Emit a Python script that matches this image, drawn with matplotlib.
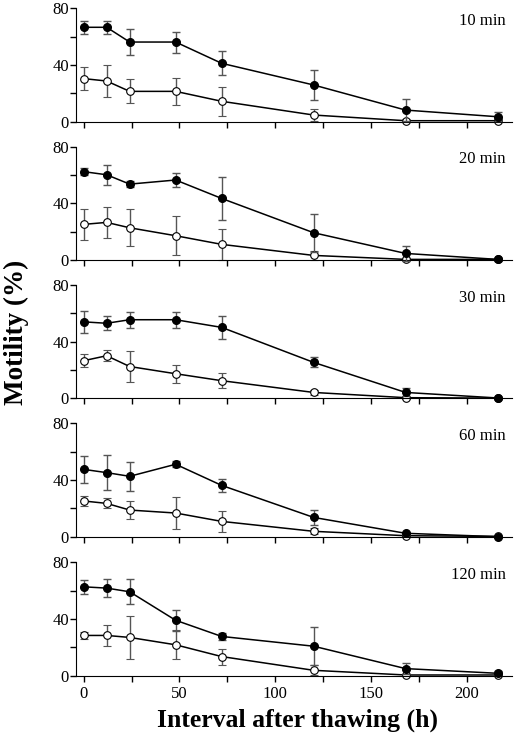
import matplotlib.pyplot as plt
import numpy as np

plt.rcParams['font.family'] = ['Liberation Serif', 'DejaVu Serif']

hours = [0, 12, 24, 48, 72, 120, 168, 216]
panels = ["10 min", "20 min", "30 min", "60 min", "120 min"]

# filled circles
filled = [
    [66.6, 66.6, 56.2, 56.2, 41.2, 25.9, 8.2, 3.5],
    [62.4, 60.2, 53.6, 56.5, 43.5, 19.3, 4.7, 0.5],
    [54.0, 53.0, 55.5, 55.5, 50.1, 25.4, 4.2, 0.3],
    [47.5, 45.2, 42.6, 51.1, 36.2, 13.6, 2.4, 0.0],
    [62.7, 61.8, 59.2, 39.1, 27.7, 20.8, 5.0, 1.7],
]
filled_err = [
    [4.7, 4.7, 9.4, 7.4, 8.6, 10.6, 7.8, 3.0],
    [2.4, 7.2, 2.1, 4.7, 15.0, 13.5, 5.0, 1.0],
    [8.0, 5.0, 5.6, 5.6, 8.2, 3.5, 2.8, 0.5],
    [9.5, 12.5, 10.4, 2.1, 4.7, 5.0, 1.0, 0.3],
    [4.9, 6.3, 8.9, 7.3, 2.5, 13.5, 3.8, 1.5],
]
# open circles
hollow = [
    [30.4, 28.7, 21.4, 21.4, 14.4, 4.7, 0.7, 0.7],
    [25.2, 26.6, 22.8, 17.2, 11.1, 3.3, 0.5, 0.5],
    [26.6, 30.1, 22.5, 17.4, 12.5, 4.2, 0.5, 0.2],
    [25.2, 23.5, 18.8, 16.7, 10.8, 3.8, 0.7, 0.2],
    [28.4, 28.4, 27.0, 21.8, 13.5, 3.8, 0.5, 0.5],
]
hollow_err = [
    [8.0, 11.0, 8.4, 9.4, 10.2, 4.0, 1.0, 1.0],
    [10.8, 11.2, 13.0, 13.6, 11.0, 3.0, 1.0, 1.0],
    [4.7, 4.0, 10.6, 6.5, 5.5, 1.5, 1.0, 0.5],
    [3.8, 3.6, 6.4, 11.0, 7.3, 2.0, 0.5, 0.3],
    [2.4, 7.6, 15.4, 10.3, 5.6, 3.5, 1.0, 1.0],
]

fig = plt.figure(figsize=(5.14, 7.38), dpi=100)
W, H = 514, 738
tops = [8.3, 146.7, 285.0, 423.3, 562.3]
ph = 113.4
left_px, right_px = 76, 512

for i, name in enumerate(panels):
    bottom = 1 - (tops[i] + ph) / H
    ax = fig.add_axes([left_px / W, bottom, (right_px - left_px) / W, ph / H])
    ax.errorbar(hours, hollow[i], yerr=hollow_err[i], color='black', ecolor='#555555',
                elinewidth=1.0, capsize=3, capthick=1.0, marker='o', markersize=5.5,
                markerfacecolor='white', markeredgecolor='black', markeredgewidth=0.8,
                linewidth=1.1, zorder=2)
    ax.errorbar(hours, filled[i], yerr=filled_err[i], color='black', ecolor='#555555',
                elinewidth=1.0, capsize=3, capthick=1.0, marker='o', markersize=5.5,
                markerfacecolor='black', markeredgecolor='black',
                linewidth=1.1, zorder=3)
    ax.set_xlim(-4, 223.5)
    ax.set_ylim(0, 80)
    ax.spines['top'].set_visible(False)
    ax.spines['right'].set_visible(False)
    ax.set_yticks([0, 40, 80])
    ax.set_yticks([20, 60], minor=True)
    ax.set_xticks([0, 50, 100, 150, 200])
    ax.set_xticks([25, 75, 125, 175], minor=True)
    ax.tick_params(which='both', direction='out', length=4, width=1, labelsize=12)
    ax.tick_params(axis='y', pad=1)
    for child in ax.lines:
        child.set_clip_on(False)
    for coll in ax.collections:
        coll.set_clip_on(False)
    if i < len(panels) - 1:
        ax.tick_params(axis='x', labelbottom=False)
    ax.text(0.985, 0.96, name, transform=ax.transAxes, ha='right', va='top', fontsize=12)

fig.text(0.032, 0.55, 'Motility (%)', rotation=90, ha='center', va='center',
         fontsize=19.5, fontweight='bold')
fig.text(0.579, 0.024, 'Interval after thawing (h)', ha='center', va='center',
         fontsize=18.5, fontweight='bold')

fig.savefig('out.png', dpi=100)
